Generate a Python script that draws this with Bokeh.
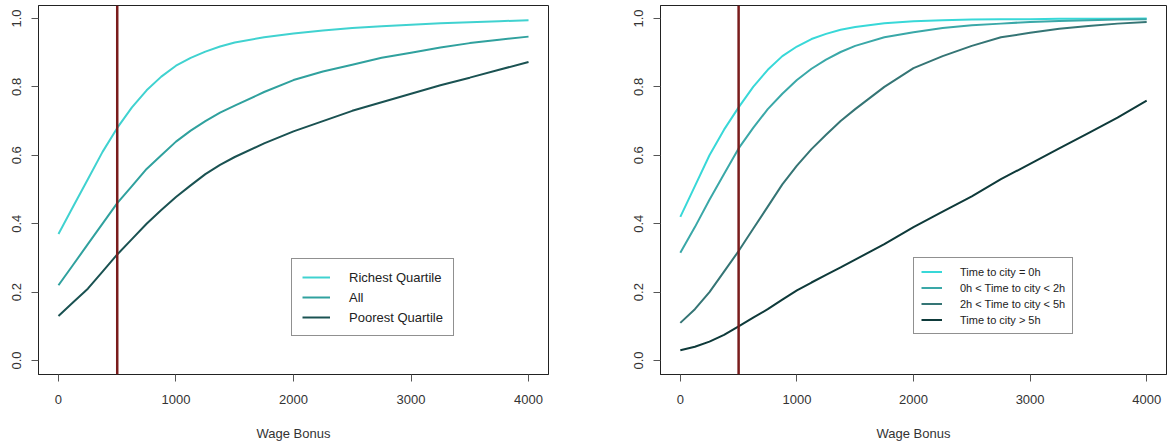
from bokeh.plotting import figure
from bokeh.layouts import row
from bokeh.models import (Range1d, Span, Legend, LegendItem, FixedTicker,
                          CustomJSTickFormatter)
from bokeh.embed import file_html
from bokeh.resources import INLINE

# ---- data ----
bonus = [0, 125, 250, 375, 500, 625, 750, 875, 1000, 1125, 1250, 1375, 1500,
         1750, 2000, 2250, 2500, 2750, 3000, 3250, 3500, 3750, 4000]

richest = [0.37, 0.45, 0.53, 0.61, 0.68, 0.74, 0.79, 0.83, 0.862, 0.885,
           0.903, 0.918, 0.93, 0.945, 0.956, 0.965, 0.972, 0.977, 0.982,
           0.986, 0.989, 0.992, 0.995]
all_hh = [0.22, 0.28, 0.34, 0.40, 0.46, 0.51, 0.56, 0.60, 0.64, 0.672,
          0.70, 0.725, 0.745, 0.785, 0.82, 0.845, 0.865, 0.885, 0.90,
          0.915, 0.928, 0.938, 0.947]
poorest = [0.13, 0.17, 0.21, 0.26, 0.31, 0.355, 0.40, 0.44, 0.478, 0.512,
           0.545, 0.572, 0.595, 0.635, 0.67, 0.70, 0.73, 0.755, 0.78,
           0.805, 0.827, 0.85, 0.873]

t0 = [0.42, 0.51, 0.60, 0.675, 0.74, 0.80, 0.85, 0.89, 0.918, 0.94, 0.955,
      0.967, 0.975, 0.986, 0.992, 0.995, 0.997, 0.998, 0.998, 0.999,
      0.999, 0.999, 1.0]
t0_2 = [0.315, 0.39, 0.47, 0.545, 0.62, 0.68, 0.735, 0.78, 0.82, 0.853,
        0.88, 0.902, 0.92, 0.945, 0.96, 0.972, 0.98, 0.985, 0.99, 0.993,
        0.995, 0.997, 0.998]
t2_5 = [0.11, 0.15, 0.20, 0.26, 0.32, 0.385, 0.45, 0.515, 0.57, 0.618,
        0.66, 0.70, 0.735, 0.80, 0.855, 0.89, 0.92, 0.945, 0.958, 0.97,
        0.978, 0.985, 0.99]
t5 = [0.03, 0.04, 0.055, 0.075, 0.10, 0.125, 0.15, 0.178, 0.205, 0.228,
      0.25, 0.272, 0.295, 0.34, 0.39, 0.435, 0.48, 0.53, 0.575, 0.62,
      0.665, 0.71, 0.76]

left_labels = ["Richest Quartile", "All", "Poorest Quartile"]
right_labels = ["Time to city = 0h", "0h < Time to city < 2h",
                "2h < Time to city < 5h", "Time to city > 5h"]
bonus_line = 500

left_colors = ["#40D2D0", "#30A19E", "#1A5252"]
right_colors = ["#38D8D8", "#3AA8A8", "#357575", "#0E3A3A"]
FONT = "Liberation Sans"


def make_fig(width, border_left, border_right, series, labels, colors,
             leg_loc, leg_font, glyph_w, label_h, spacing, padding, standoff):
    p = figure(width=width, height=445, output_backend="svg",
               toolbar_location=None,
               x_range=Range1d(-170, 4170), y_range=Range1d(-0.041, 1.038),
               min_border_left=border_left, min_border_right=border_right,
               min_border_top=5, min_border_bottom=71)
    p.xgrid.visible = False
    p.ygrid.visible = False
    p.outline_line_color = "#222222"
    p.outline_line_width = 1
    for ax in (p.xaxis[0], p.yaxis[0]):
        ax.axis_line_color = "#222222"
        ax.major_tick_in = 0
        ax.major_tick_out = 7
        ax.major_tick_line_color = "#555555"
        ax.minor_tick_line_color = None
        ax.major_label_text_font = FONT
        ax.major_label_text_font_size = "13px"
        ax.major_label_text_color = "#333333"
    p.xaxis[0].ticker = FixedTicker(ticks=[0, 1000, 2000, 3000, 4000])
    p.yaxis[0].ticker = FixedTicker(ticks=[0.0, 0.2, 0.4, 0.6, 0.8, 1.0])
    p.yaxis[0].formatter = CustomJSTickFormatter(code="return tick.toFixed(1);")
    p.yaxis[0].major_label_orientation = "vertical"
    p.yaxis[0].major_label_standoff = 10
    p.xaxis[0].major_label_standoff = 13
    p.xaxis[0].axis_label = "Wage Bonus"
    p.xaxis[0].axis_label_text_font = FONT
    p.xaxis[0].axis_label_text_font_size = "13px"
    p.xaxis[0].axis_label_text_font_style = "normal"
    p.xaxis[0].axis_label_text_color = "#333333"
    p.xaxis[0].axis_label_standoff = 19

    p.add_layout(Span(location=bonus_line, dimension="height",
                      line_color="#7A1C1C", line_width=2.5))

    items = []
    for ys, lab, col in zip(series, labels, colors):
        r = p.line(bonus, ys, line_color=col, line_width=2)
        items.append(LegendItem(label=lab, renderers=[r]))

    leg = Legend(items=items, location=leg_loc)
    leg.label_text_font = FONT
    leg.label_text_font_size = leg_font
    leg.label_text_color = "#222222"
    leg.border_line_color = "#222222"
    leg.border_line_width = 1
    leg.glyph_width = glyph_w
    leg.glyph_height = label_h
    leg.label_height = label_h
    leg.spacing = spacing
    leg.padding = padding
    leg.label_standoff = standoff
    leg.margin = 0
    p.add_layout(leg)
    return p


p1 = make_fig(630, 38, 82, [richest, all_hh, poorest], left_labels,
              left_colors, (253, 38), "13px", 28, 16, 4, 10, 19)
p2 = make_fig(538, 30, 2, [t0, t0_2, t2_5, t5], right_labels, right_colors,
              (253, 40), "11px", 21, 13, 3, 7, 18)

layout = row(p1, p2)
open("out.html", "w").write(file_html(layout, INLINE))
